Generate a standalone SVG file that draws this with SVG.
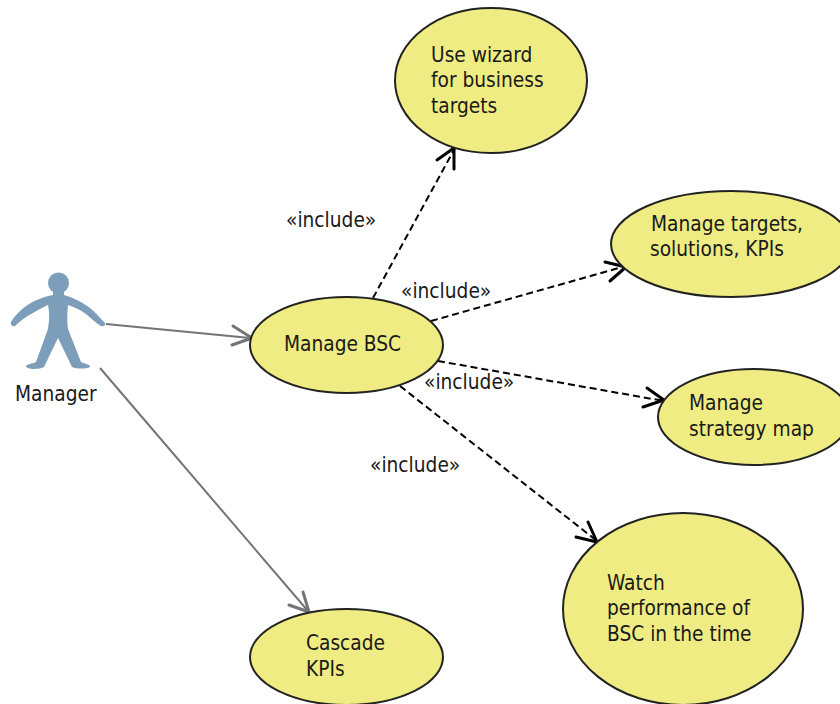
<svg xmlns="http://www.w3.org/2000/svg" width="840" height="704" viewBox="0 0 840 704">
<style>
text{font-family:"DejaVu Sans Condensed","DejaVu Sans","Liberation Sans",sans-serif;font-stretch:condensed;font-size:20.700px;fill:#1a1a1a}
.uc{fill:#eeec82;stroke:#222;stroke-width:2}
.dash{fill:none;stroke:#000;stroke-width:2;stroke-dasharray:7 4}
.solid{fill:none;stroke:#747474;stroke-width:2}
.headk{fill:none;stroke:#000;stroke-width:3;stroke-linecap:round;stroke-linejoin:miter}
.headg{fill:none;stroke:#747474;stroke-width:3;stroke-linecap:round;stroke-linejoin:miter}
</style>
<rect width="840" height="704" fill="#fff"/>
<g id="connectors">
<path class="solid" d="M106 324L250 338"/>
<path class="headg" d="M233 326L252 338L232 345"/>
<path class="solid" d="M100 368L308 611"/>
<path class="headg" d="M303 592L309 612L289 605"/>
<path class="dash" d="M373 298L455 148"/>
<path class="headk" d="M437 160L454 148L454 169"/>
<path class="dash" d="M431 321L626 266"/>
<path class="headk" d="M605 262L626 267L610 281"/>
<path class="dash" d="M438 361L664 401"/>
<path class="headk" d="M647 388L664 400L643 407"/>
<path class="dash" d="M400 386L597 541"/>
<path class="headk" d="M588 522L597 542L576 537"/>
</g>
<g id="actor-manager">
<circle cx="58.500" cy="283" r="10.500" fill="#7c9ebb"/>
<path fill="#7c9ebb" d="M53 291L53 295C43 297 33 301 26 306C19 311 14 317 11 322C10 325 13 327 15 326C20 321 27 316 33 313C38 310 43 307 48 305C50 315 49 322 48 329L36 362C32 364 27 364 26 366C26 368 30 369 34 369C38 369 42 368 44 367L58 338L72 367C77 369 86 369 90 367C91 365 86 364 81 362L68 329C67 322 67 315 68 305C74 307 81 310 86 314C91 318 96 323 101 326C104 327 106 325 105 323C100 318 96 313 90 308C82 302 72 297 64 295L64 291Z"/>
<text x="15" y="401">Manager</text>
</g>
<g id="uc-wizard">
<ellipse class="uc" cx="491" cy="80.500" rx="96" ry="72.500"/>
<text x="431" y="62">Use wizard</text>
<text x="431" y="87">for business</text>
<text x="431" y="113">targets</text>
</g>
<g id="uc-targets">
<ellipse class="uc" cx="731" cy="244" rx="120" ry="53"/>
<text x="651" y="231">Manage targets,</text>
<text x="650" y="256">solutions, KPIs</text>
</g>
<g id="uc-bsc">
<ellipse class="uc" cx="346.500" cy="345" rx="96.500" ry="48"/>
<text x="284" y="351">Manage BSC</text>
</g>
<g id="uc-strategy">
<ellipse class="uc" cx="754" cy="417" rx="96" ry="48"/>
<text x="689" y="410">Manage</text>
<text x="689" y="436">strategy map</text>
</g>
<g id="uc-watch">
<ellipse class="uc" cx="683" cy="609" rx="120" ry="96"/>
<text x="607" y="590">Watch</text>
<text x="607" y="615">performance of</text>
<text x="607" y="641">BSC in the time</text>
</g>
<g id="uc-cascade">
<ellipse class="uc" cx="346.500" cy="657" rx="96.500" ry="48"/>
<text x="306" y="650">Cascade</text>
<text x="306" y="676">KPIs</text>
</g>
<g id="labels">
<text x="286" y="227">«include»</text>
<text x="401" y="298">«include»</text>
<text x="424" y="389">«include»</text>
<text x="370" y="472">«include»</text>
</g>
</svg>
